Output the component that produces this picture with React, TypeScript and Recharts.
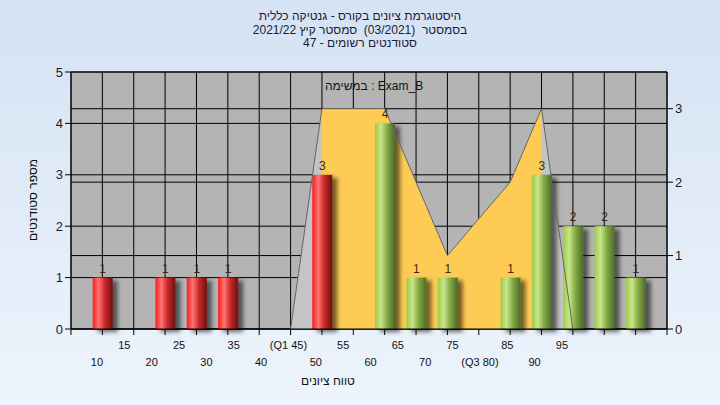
import { ComposedChart, Bar, Area, Line, XAxis, YAxis, CartesianGrid, LabelList } from "recharts";

// score buckets and student counts per bucket
const scores = [10, 15, 20, 25, 30, 35, 40, 45, 50, 55, 60, 65, 70, 75, 80, 85, 90, 95];
const counts = [1, null, 1, 1, 1, null, null, 3, null, 4, 1, 1, null, 1, 3, 2, 2, 1];
// distribution curve (right axis)
const curve = [null, null, null, null, null, null, 0, 3, 3, 3, 2, 1, 1.5, 2, 3, 0, null, null];
const tickLabels = ["10", "15", "20", "25", "30", "35", "40", "(Q1 45)", "50", "55", "60", "65", "70", "75", "(Q3 80)", "85", "90", "95"];
const gridTicks = [5, 10, 15, 20, 25, 30, 35, 40, 45, 50, 55, 60, 65, 70, 75, 80, 85, 90, 95, 100];
const leftTicks = [0, 1, 2, 3, 4, 5];
const rightTicks = [0, 1, 2, 3];
const q1 = 45;
const q3 = 80;
const passMark = 55;

const data = scores.map((score, i) => ({
  score,
  count: counts[i],
  curve: curve[i],
  iqr: score >= q1 && score <= q3 ? curve[i] : null,
}));

const LabelTick = (props: any) => {
  const { x, y, payload } = props;
  const i = scores.indexOf(payload.value);
  if (i < 0) return <g />;
  const lower = i % 2 === 0;
  return (
    <text x={x} y={y + (lower ? 19 : 2)} textAnchor="middle" fontSize={11} fill="#111" fontFamily="Liberation Sans">
      {tickLabels[i]}
    </text>
  );
};

const BarShape = (p: any) => {
  if (!p.height) return <g />;
  const fill = p.payload.score < passMark ? "url(#redBar)" : "url(#greenBar)";
  return <rect x={p.x} y={p.y} width={p.width} height={p.height} fill={fill} filter="url(#barShadow)" />;
};

export default function App() {
  return (
    <div
      style={{
        position: "absolute",
        left: 0,
        top: 0,
        width: 720,
        height: 405,
        background: "linear-gradient(#d5e2f3, #edf4fc)",
        fontFamily: "Liberation Sans, DejaVu Sans, sans-serif",
        overflow: "hidden",
      }}
    >
      <div style={{ position: "absolute", top: 10, left: 0, width: 720, textAlign: "center", fontSize: 12, lineHeight: "13.5px", color: "#1a1a3a" }}>
        <div>היסטוגרמת ציונים בקורס - גנטיקה כללית</div>
        <div>בסמסטר&nbsp; (03/2021)&nbsp; סמסטר קיץ 2021/22</div>
        <div>סטודנטים רשומים - 47</div>
      </div>
      <ComposedChart
        width={720}
        height={405}
        data={data}
        margin={{ top: 72, right: 23, bottom: 26, left: 31 }}
      >
        <defs>
          <linearGradient id="redBar" x1="0" y1="0" x2="1" y2="0">
            <stop offset="0%" stopColor="#ff1a1a" />
            <stop offset="30%" stopColor="#ff7474" />
            <stop offset="60%" stopColor="#cc2a2a" />
            <stop offset="100%" stopColor="#6a1010" />
          </linearGradient>
          <linearGradient id="greenBar" x1="0" y1="0" x2="1" y2="0">
            <stop offset="0%" stopColor="#9ccc45" />
            <stop offset="30%" stopColor="#c8e68c" />
            <stop offset="60%" stopColor="#86ac46" />
            <stop offset="100%" stopColor="#4e6a28" />
          </linearGradient>
          <filter id="barShadow" x="-30%" y="-10%" width="180%" height="130%">
            <feDropShadow dx="5" dy="3" stdDeviation="2" floodColor="#000" floodOpacity="0.55" />
          </filter>
        </defs>
        <CartesianGrid xAxisId="a" yAxisId="left" stroke="#000" fill="#b4b4b4" fillOpacity={1} />
        <CartesianGrid xAxisId="a" yAxisId="right" stroke="#000" vertical={false} />
        {/* main axis: grid positions and tick marks */}
        <XAxis
          xAxisId="a"
          dataKey="score"
          type="number"
          domain={[5, 100]}
          ticks={gridTicks}
          height={10}
          tickSize={6}
          stroke="#000"
          tickFormatter={() => ""}
        />
        {/* label rows axis, sits below the main axis */}
        <XAxis
          xAxisId="b"
          dataKey="score"
          type="number"
          domain={[5.25, 114.2]}
          allowDataOverflow
          ticks={scores}
          height={40}
          axisLine={false}
          tickLine={false}
          tick={<LabelTick />}
          interval={0}
        />
        <YAxis
          yAxisId="left"
          domain={[0, 5]}
          ticks={leftTicks}
          width={40}
          stroke="#000"
          tick={{ fontSize: 13, fill: "#1a1a1a" }}
        />
        <YAxis
          yAxisId="right"
          orientation="right"
          domain={[0, 3.5]}
          ticks={rightTicks}
          width={30}
          stroke="#000"
          allowDataOverflow
          tick={{ fontSize: 13, fill: "#1a1a1a" }}
        />
        <Area
          xAxisId="a"
          yAxisId="right"
          dataKey="curve"
          type="linear"
          fill="#c4c4c4"
          fillOpacity={1}
          stroke="none"
          isAnimationActive={false}
        />
        <Area
          xAxisId="a"
          yAxisId="right"
          dataKey="iqr"
          type="linear"
          fill="#fecb55"
          fillOpacity={1}
          stroke="none"
          isAnimationActive={false}
        />
        <Line
          xAxisId="a"
          yAxisId="right"
          dataKey="curve"
          type="linear"
          stroke="#666"
          strokeWidth={1}
          dot={false}
          isAnimationActive={false}
        />
        <Bar
          xAxisId="a"
          yAxisId="left"
          dataKey="count"
          barSize={20}
          shape={<BarShape />}
          isAnimationActive={false}
        >
          <LabelList dataKey="count" position="top" fontSize={12} fill="#3a2a1a" />
        </Bar>
      </ComposedChart>
      <div style={{ position: "absolute", top: 79, left: 325, fontSize: 12, color: "#111", direction: "ltr" }}>
        במשימה : Exam_B
      </div>
      <div style={{ position: "absolute", top: 374, left: 328, transform: "translateX(-50%)", fontSize: 12, color: "#111" }}>
        טווח ציונים
      </div>
      <div
        style={{
          position: "absolute",
          top: 200,
          left: 33,
          transform: "translate(-50%, -50%) rotate(-90deg)",
          fontSize: 12,
          color: "#111",
          whiteSpace: "nowrap",
        }}
      >
        מספר סטודנטים
      </div>
    </div>
  );
}
